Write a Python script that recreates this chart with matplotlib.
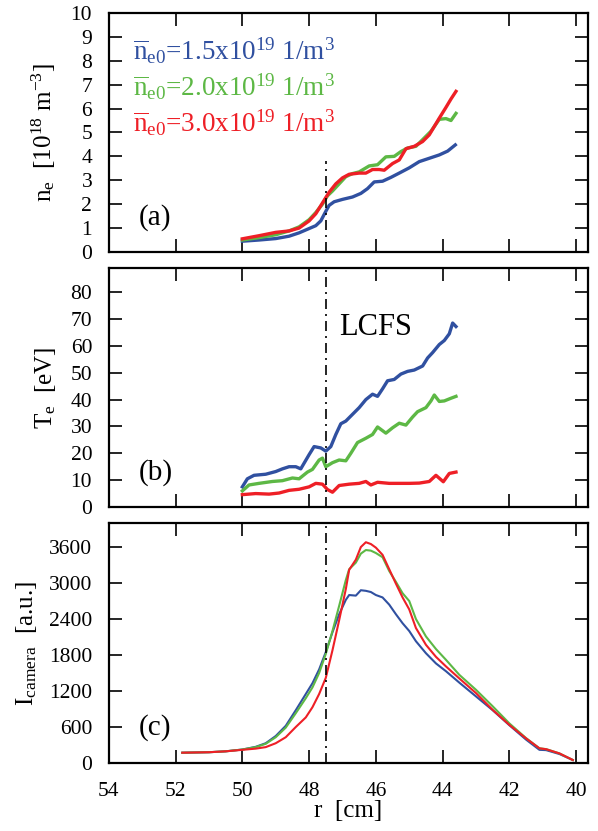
import matplotlib
matplotlib.use("Agg")
import matplotlib.pyplot as plt
import numpy as np

plt.rcParams['font.family'] = ['Liberation Serif', 'DejaVu Serif']
plt.rcParams['mathtext.fontset'] = 'custom'
plt.rcParams['mathtext.rm'] = 'Liberation Serif'
plt.rcParams['mathtext.it'] = 'Liberation Serif:italic'
plt.rcParams['mathtext.bf'] = 'Liberation Serif:bold'

# ---------------- data ----------------
series_labels = [r'$\overline{\mathrm{n}}_{\mathrm{e0}}$=1.5x10$^{19}$ 1/m$^3$',
                 r'$\overline{\mathrm{n}}_{\mathrm{e0}}$=2.0x10$^{19}$ 1/m$^3$',
                 r'$\overline{\mathrm{n}}_{\mathrm{e0}}$=3.0x10$^{19}$ 1/m$^3$']
colors = ['#3050A0', '#5DB845', '#EE1F26']

# (a) electron density [1e18 m^-3]
ne_r_15 = [50.0, 49.5, 49.0, 48.6, 48.3, 48.05, 47.8, 47.65, 47.5, 47.4, 47.25, 47.0, 46.7, 46.45,
           46.25, 46.05, 45.8, 45.55, 45.3, 45.0, 44.7, 44.4, 44.1, 43.85, 43.62]
ne_15 = [0.45, 0.5, 0.56, 0.66, 0.8, 0.95, 1.1, 1.3, 1.7, 1.95, 2.1, 2.2, 2.3, 2.45,
         2.65, 2.93, 2.96, 3.12, 3.3, 3.52, 3.78, 3.92, 4.06, 4.22, 4.48]
ne_r_20 = [50.0, 49.5, 49.0, 48.6, 48.3, 48.0, 47.8, 47.6, 47.45, 47.3, 47.1, 46.9, 46.7, 46.5,
           46.2, 45.95, 45.7, 45.45, 45.25, 45.05, 44.8, 44.6, 44.35, 44.1, 43.9, 43.75, 43.6]
ne_20 = [0.5, 0.6, 0.72, 0.88, 1.05, 1.35, 1.65, 2.0, 2.35, 2.55, 2.85, 3.15, 3.28, 3.35,
         3.6, 3.65, 3.98, 4.0, 4.2, 4.35, 4.42, 4.7, 5.05, 5.55, 5.58, 5.5, 5.8]
ne_r_30 = [50.0, 49.5, 49.0, 48.6, 48.3, 48.0, 47.8, 47.6, 47.4, 47.2, 47.0, 46.8, 46.5, 46.3,
           46.1, 45.9, 45.75, 45.5, 45.3, 45.1, 44.85, 44.6, 44.4, 44.1, 43.9, 43.75, 43.6]
ne_30 = [0.55, 0.68, 0.82, 0.88, 1.0, 1.3, 1.6, 2.05, 2.5, 2.85, 3.1, 3.25, 3.3, 3.3,
         3.45, 3.45, 3.42, 3.7, 3.85, 4.32, 4.42, 4.62, 4.9, 5.6, 6.05, 6.4, 6.72]

# (b) electron temperature [eV]
te_r_15 = [50.0, 49.85, 49.65, 49.3, 49.0, 48.8, 48.6, 48.4, 48.25, 48.0, 47.85, 47.65, 47.5,
           47.35, 47.2, 47.05, 46.9, 46.7, 46.5, 46.3, 46.1, 45.95, 45.8, 45.65, 45.45, 45.25,
           45.05, 44.85, 44.6, 44.45, 44.3, 44.1, 43.95, 43.8, 43.7, 43.6]
te_15 = [7.5, 10.5, 11.8, 12.2, 13.2, 14.2, 15.0, 15.0, 14.2, 19.5, 22.5, 22.0, 20.8,
         22.5, 27.0, 31.0, 32.0, 34.5, 37.0, 40.0, 42.0, 41.2, 44.0, 47.0, 47.5, 49.5,
         50.5, 51.0, 52.5, 55.5, 57.5, 60.5, 62.0, 64.5, 68.5, 67.2]
te_r_20 = [50.0, 49.8, 49.5, 49.1, 48.8, 48.5, 48.3, 48.05, 47.9, 47.7, 47.6, 47.5, 47.3, 47.1,
           46.9, 46.75, 46.55, 46.3, 46.1, 45.95, 45.7, 45.5, 45.3, 45.1, 44.9, 44.75, 44.5,
           44.35, 44.25, 44.1, 43.95, 43.75, 43.6]
te_20 = [6.0, 8.2, 8.8, 9.5, 9.8, 10.8, 10.5, 13.0, 14.0, 17.5, 18.2, 15.0, 16.5, 17.5,
         17.2, 20.0, 24.0, 25.6, 27.0, 29.8, 27.5, 29.5, 31.2, 30.5, 33.5, 35.5, 37.0,
         39.5, 41.7, 39.3, 39.5, 40.5, 41.2]
te_r_30 = [50.0, 49.6, 49.2, 48.9, 48.6, 48.3, 48.0, 47.8, 47.6, 47.45, 47.3, 47.1, 46.8, 46.5,
           46.3, 46.15, 45.95, 45.6, 45.3, 45.0, 44.7, 44.4, 44.2, 43.98, 43.8, 43.6]
te_30 = [4.6, 5.0, 4.8, 5.2, 6.2, 6.6, 7.5, 8.8, 8.5, 6.5, 5.5, 8.0, 8.5, 8.8,
         9.5, 8.2, 9.2, 8.8, 8.8, 8.8, 8.9, 9.5, 11.8, 9.4, 12.5, 13.0]

# (c) camera intensity [a.u.]
cam_r = [51.8, 51.0, 50.5, 50.0, 49.6, 49.3, 49.0, 48.7, 48.4, 48.1, 47.9, 47.7, 47.5, 47.3,
         47.1, 46.9, 46.8, 46.6, 46.45, 46.3, 46.15, 46.0, 45.8, 45.6, 45.4, 45.2, 45.0,
         44.8, 44.5, 44.2, 43.9, 43.5, 43.0, 42.5, 42.0, 41.5, 41.1, 40.9, 40.5, 40.1]
cam_15 = [172, 180, 195, 225, 270, 330, 450, 620, 880, 1150, 1330, 1560, 1850, 2180,
          2480, 2720, 2800, 2790, 2880, 2870, 2850, 2800, 2760, 2640, 2480, 2330, 2200,
          2030, 1830, 1660, 1530, 1340, 1110, 880, 630, 390, 220, 215, 150, 50]
cam_20 = [172, 180, 195, 225, 265, 320, 430, 590, 830, 1080, 1260, 1500, 1820, 2200,
          2620, 3050, 3230, 3340, 3490, 3550, 3540, 3500, 3430, 3200, 3020, 2830, 2700,
          2400, 2110, 1900, 1720, 1470, 1220, 945, 660, 415, 245, 232, 160, 50]
cam_30 = [172, 180, 195, 220, 240, 265, 330, 430, 600, 760, 930, 1150, 1420, 1880,
          2380, 2900, 3220, 3390, 3600, 3680, 3650, 3590, 3470, 3230, 2990, 2760, 2560,
          2250, 1970, 1770, 1610, 1410, 1165, 885, 635, 410, 245, 230, 160, 50]

lcfs_r = 47.5
x_ticks = [54, 52, 50, 48, 46, 44, 42, 40]
ne_ticks = list(range(0, 11))
te_ticks = list(range(0, 81, 10))
cam_ticks = list(range(0, 3601, 600))

# ---------------- figure ----------------
fig = plt.figure(figsize=(5.98, 8.31), dpi=100)
L, W = 0.182, 0.801
ax_a = fig.add_axes([L, 0.6968, W, 0.2876])
ax_b = fig.add_axes([L, 0.3899, W, 0.2876])
ax_c = fig.add_axes([L, 0.0818, W, 0.2888])

thick = 2.4
ne_sets = [(ne_r_15, ne_15), (ne_r_20, ne_20), (ne_r_30, ne_30)]
te_sets = [(te_r_15, te_15), (te_r_20, te_20), (te_r_30, te_30)]
cam_sets = [cam_15, cam_20, cam_30]
for (r, v), c in zip(ne_sets, colors):
    ax_a.plot(r, v, color=c, lw=thick, solid_joinstyle='round')
for (r, v), c in zip(te_sets, colors):
    ax_b.plot(r, v, color=c, lw=thick, solid_joinstyle='round')
for v, c in zip(cam_sets, colors):
    ax_c.plot(cam_r, v, color=c, lw=1.5)

dash = (0, (6, 3, 1.2, 3))
ax_a.axvline(lcfs_r, ymin=0, ymax=0.38, color='black', lw=1.2, linestyle=dash)
ax_b.axvline(lcfs_r, color='black', lw=1.2, linestyle=dash)
ax_c.axvline(lcfs_r, color='black', lw=1.2, linestyle=dash)

tick_fs = 15.5
label_fs = 18
for ax in (ax_a, ax_b, ax_c):
    ax.set_xlim(54, 39.65)
    ax.set_xticks(x_ticks)
    ax.tick_params(direction='in', length=9.5, width=1.2, top=True, right=True,
                   labelsize=tick_fs, pad=12)
    ax.tick_params(axis='x', pad=14)
    for s in ax.spines.values():
        s.set_linewidth(1.6)

ax_a.set_ylim(0, 10)
ax_a.set_yticks(ne_ticks)
ax_b.set_ylim(0, 89)
ax_b.set_yticks(te_ticks)
ax_c.set_ylim(0, 4000)
ax_c.set_yticks(cam_ticks)
ax_a.tick_params(labelbottom=False)
ax_b.tick_params(labelbottom=False)

ax_a.set_ylabel(r'n$_{\mathrm{e}}$  [10$^{18}$ m$^{-3}$]', fontsize=label_fs, labelpad=9)
ax_b.set_ylabel(r'T$_{\mathrm{e}}$  [eV]', fontsize=label_fs, labelpad=9)
ax_c.set_ylabel(r'I$_{\mathrm{camera}}$  [a.u.]', fontsize=label_fs, labelpad=7)
ax_c.set_xlabel('r  [cm]', fontsize=label_fs, labelpad=-1)

ax_a.text(53.1, 1.45, '(a)', fontsize=21, va='center', ha='left')
ax_b.text(53.1, 12.7, '(b)', fontsize=21, va='center', ha='left')
ax_c.text(53.1, 584, '(c)', fontsize=21, va='center', ha='left')
ax_b.text(47.1, 66.7, 'LCFS', fontsize=22, va='center', ha='left')

for lab, c, yb in zip(series_labels, colors, [0.803, 0.652, 0.505]):
    ax_a.text(0.05, yb, lab, transform=ax_a.transAxes, color=c, fontsize=19.5,
              va='baseline', ha='left')

fig.savefig('out.png', dpi=100)
